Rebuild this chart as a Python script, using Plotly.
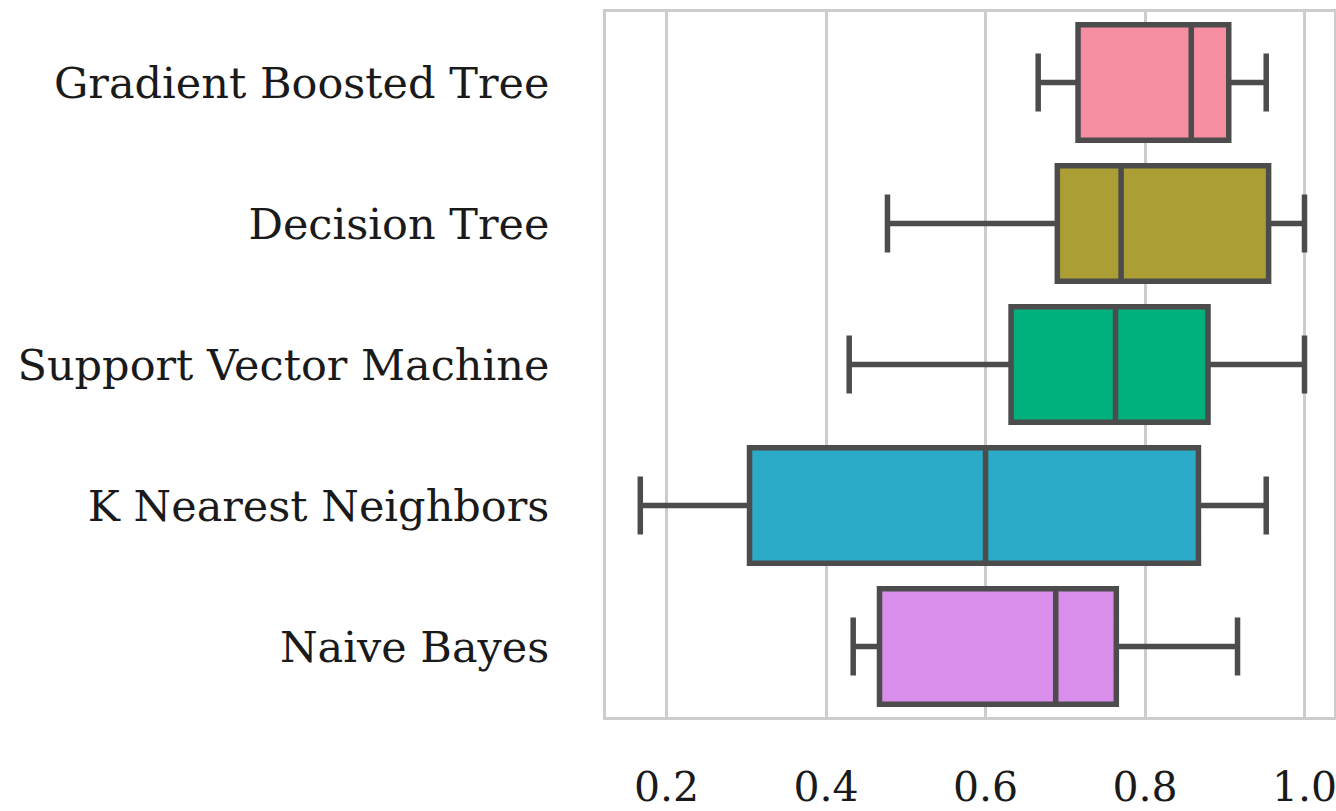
import plotly.graph_objects as go

models = ["Gradient Boosted Tree", "Decision Tree", "Support Vector Machine",
          "K Nearest Neighbors", "Naive Bayes"]
lower = [0.666, 0.477, 0.429, 0.167, 0.434]
q1 = [0.716, 0.690, 0.632, 0.304, 0.467]
median = [0.858, 0.770, 0.763, 0.600, 0.688]
q3 = [0.905, 0.955, 0.879, 0.867, 0.764]
upper = [0.952, 1.000, 1.000, 0.952, 0.916]
colors = ["#f48ea0", "#aa9e34", "#00b17d", "#2babc7", "#d88eea"]
xticks = [0.2, 0.4, 0.6, 0.8, 1.0]
xticklabels = ["0.2", "0.4", "0.6", "0.8", "1.0"]

fig = go.Figure()
for i, m in enumerate(models):
    fig.add_trace(go.Box(
        y=[m], q1=[q1[i]], median=[median[i]], q3=[q3[i]],
        lowerfence=[lower[i]], upperfence=[upper[i]],
        orientation="h", fillcolor=colors[i],
        line=dict(color="#4c4c4c", width=5.5),
        width=0.82, whiskerwidth=0.5, boxpoints=False,
        showlegend=False, hoverinfo="skip",
    ))

font_family = "DejaVu Serif"
fig.update_layout(
    width=1336, height=811,
    margin=dict(l=606, r=2, t=12, b=94),
    paper_bgcolor="white", plot_bgcolor="white",
    font=dict(family=font_family, color="#1a1a1a"),
    xaxis=dict(range=[0.124, 1.037], tickvals=xticks, ticktext=xticklabels,
               showgrid=True, gridcolor="#cccccc", gridwidth=2.5,
               showline=True, linecolor="#cccccc", linewidth=3, mirror=True,
               zeroline=False, ticks="", automargin=False, ticklabeloverflow="allow",
               tickfont=dict(size=41, family=font_family, color="#1a1a1a"),
               ticklabelstandoff=32),
    yaxis=dict(categoryorder="array", categoryarray=models, range=[4.5, -0.5],
               showgrid=False, showline=True, linecolor="#cccccc", linewidth=3, mirror=True,
               zeroline=False, ticks="", automargin=False, ticklabeloverflow="allow",
               tickfont=dict(size=43, family=font_family, color="#1a1a1a"),
               ticklabelstandoff=45),
)
fig.write_html("out.html", config={"displayModeBar": False},
               post_script="document.body.style.margin='0';document.body.style.overflow='hidden';")
